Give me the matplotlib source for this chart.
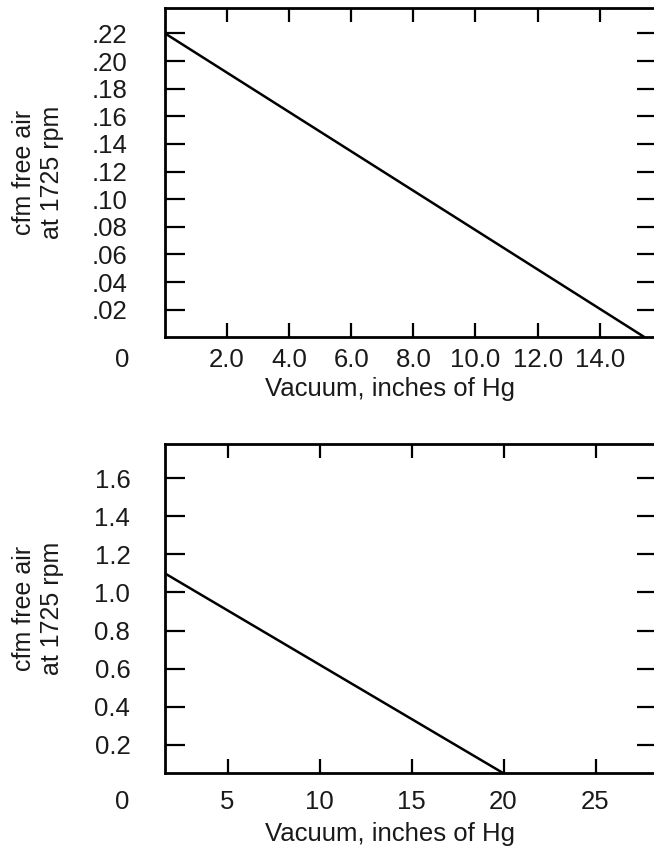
import matplotlib.pyplot as plt

plt.rcParams['font.family'] = ['Liberation Sans', 'DejaVu Sans']

# upper chart: small pump
vacuum_1 = [0.0, 15.45]
cfm_1 = [0.22, 0.0]
xticks_1 = [2, 4, 6, 8, 10, 12, 14]
xlabels_1 = ["2.0", "4.0", "6.0", "8.0", "10.0", "12.0", "14.0"]
yticks_1 = [0.02, 0.04, 0.06, 0.08, 0.10, 0.12, 0.14, 0.16, 0.18, 0.20, 0.22]
ylabels_1 = [".02", ".04", ".06", ".08", ".10", ".12", ".14", ".16", ".18", ".20", ".22"]

# lower chart: larger pump
vacuum_2 = [1.6, 20.0]
cfm_2 = [1.1, 0.05]
xticks_2 = [5, 10, 15, 20, 25]
xlabels_2 = ["5", "10", "15", "20", "25"]
yticks_2 = [0.2, 0.4, 0.6, 0.8, 1.0, 1.2, 1.4, 1.6]
ylabels_2 = ["0.2", "0.4", "0.6", "0.8", "1.0", "1.2", "1.4", "1.6"]

txt = '#1a1a1a'
fs = 18.5

fig = plt.figure(figsize=(6.54, 8.47), dpi=100)
ax1 = fig.add_axes([0.2523, 0.6018, 0.752, 0.3888])
ax2 = fig.add_axes([0.2523, 0.0870, 0.752, 0.3888])


def style(ax, xt, xl, yt, yl, xpad, ypad, xly):
    for s in ax.spines.values():
        s.set_linewidth(2.0)
    ax.set_xticks(xt)
    ax.set_xticklabels(xl)
    ax.set_yticks(yt)
    ax.set_yticklabels(yl)
    ax.tick_params(axis='x', direction='in', length=10, width=1.6,
                   top=True, labelsize=fs, labelcolor=txt, pad=xpad)
    ax.tick_params(axis='y', direction='in', length=14.5, width=1.6,
                   right=True, labelsize=fs, labelcolor=txt, pad=ypad)
    ax.set_xlabel("Vacuum, inches of Hg", fontsize=fs, color=txt)
    ax.xaxis.set_label_coords(0.457, xly)
    ax.set_ylabel("cfm free air\nat 1725 rpm", fontsize=18, color=txt,
                  linespacing=1.2)
    ax.yaxis.set_label_coords(-0.205, 0.5)
    ax.annotate("0", xy=(0, 0), xycoords='axes fraction', xytext=(-31, -xpad),
                textcoords='offset points', ha='center', va='top',
                fontsize=fs, color=txt)


ax1.plot(vacuum_1, cfm_1, color='black', lw=1.8, solid_capstyle='butt')
ax1.set_xlim(0, 15.84)
ax1.set_ylim(0, 0.2384)
style(ax1, xticks_1, xlabels_1, yticks_1, ylabels_1, 8, 27, -0.121)

ax2.plot(vacuum_2, cfm_2, color='black', lw=1.8, solid_capstyle='butt')
ax2.set_xlim(1.6, 28.33)
ax2.set_ylim(0.05, 1.78)
style(ax2, xticks_2, xlabels_2, yticks_2, ylabels_2, 12, 25, -0.148)

fig.savefig('out.png', dpi=100)
